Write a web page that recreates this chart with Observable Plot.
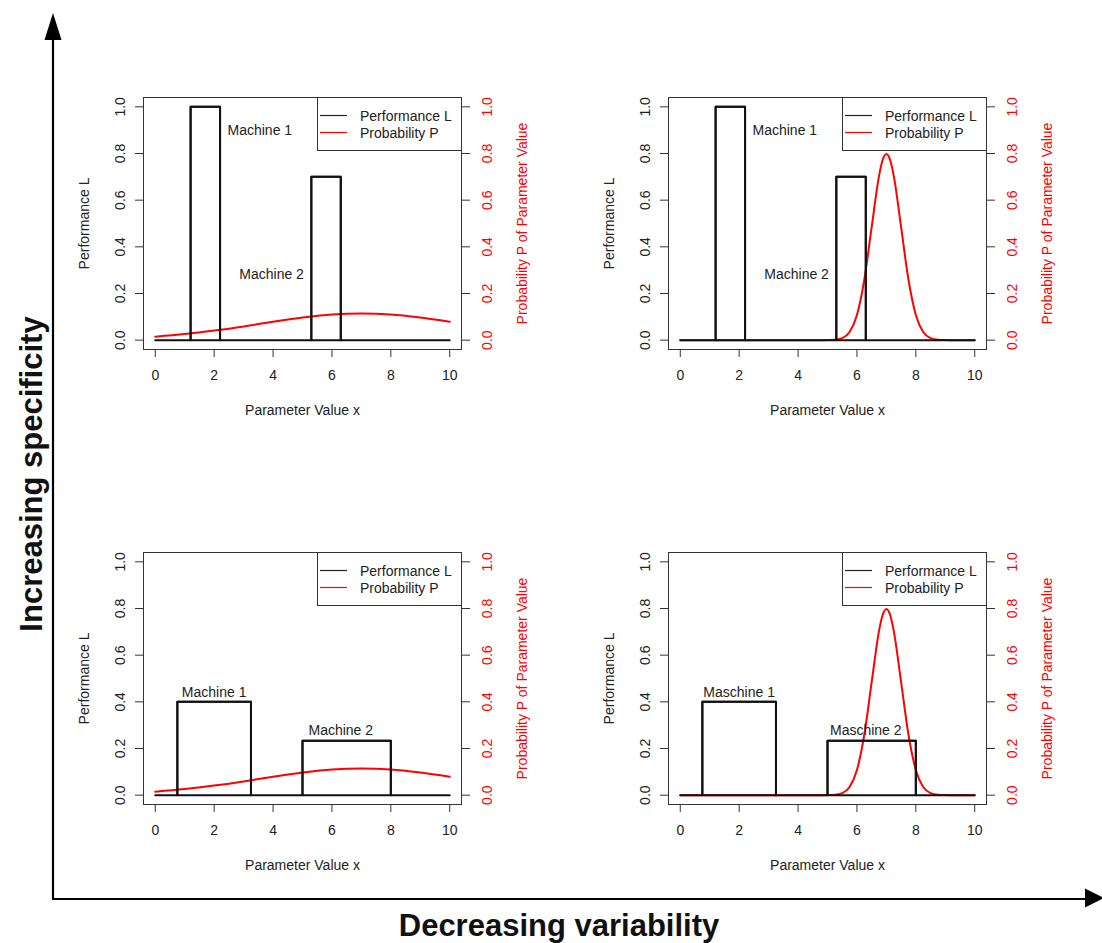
<!DOCTYPE html>
<html>
<head>
<meta charset="utf-8">
<script src="https://cdn.jsdelivr.net/npm/d3@7"></script>
<script src="https://cdn.jsdelivr.net/npm/@observablehq/plot@0.6"></script>
<style>
  html, body { margin: 0; padding: 0; background: #fff; }
  #root { position: relative; width: 1102px; height: 943px; overflow: hidden; background: #fff; font-family: 'Liberation Sans', Arial, Helvetica, sans-serif; }
  .abs { position: absolute; }
</style>
</head>
<body>
<div id="root"></div>
<script>
// ---------------- data ----------------
const xTicks = [0, 2, 4, 6, 8, 10];
const yTicks = [0, 0.2, 0.4, 0.6, 0.8, 1.0];

// Performance L step outlines (top row: narrow machines, bottom row: wide machines)
const perfXTop = [0, 1.2, 1.2, 2.2, 2.2, 5.3, 5.3, 6.3, 6.3, 10];
const perfLTop = [0, 0, 1.0, 1.0, 0, 0, 0.7, 0.7, 0, 0];
const perfXBottom = [0, 0.75, 0.75, 3.25, 3.25, 5.0, 5.0, 8.0, 8.0, 10];
const perfLBottom = [0, 0, 0.4, 0.4, 0, 0, 0.233, 0.233, 0, 0];

// Machine boxes (start, end, performance)
const machStartTop = [1.2, 5.3];
const machEndTop = [2.2, 6.3];
const machHeightTop = [1.0, 0.7];
const machStartBottom = [0.75, 5.0];
const machEndBottom = [3.25, 8.0];
const machHeightBottom = [0.4, 0.233];

// Probability P of parameter value
const probXWide = [0, 1, 2, 3, 4, 5, 6, 7, 8, 9, 10];
const probPWide = [0.015, 0.026, 0.041, 0.059, 0.079, 0.097, 0.110, 0.114, 0.110, 0.097, 0.079];
const probXNarrow = [0, 4.5, 4.75, 5.0, 5.25, 5.5, 5.75, 6.0, 6.25, 6.5, 6.75, 6.875, 7.0, 7.125, 7.25, 7.5, 7.75, 8.0, 8.25, 8.5, 8.75, 9.0, 9.25, 9.5, 10];
const probPNarrow = [0, 0, 0.00003, 0.0003, 0.0017, 0.0089, 0.035, 0.108, 0.259, 0.484, 0.704, 0.773, 0.798, 0.773, 0.704, 0.484, 0.259, 0.108, 0.035, 0.0089, 0.0017, 0.0003, 0.00003, 0, 0];

// Machine labels
const labelsTopX = [3.55, 3.95];
const labelsTopY = [0.9, 0.28];
const labelsTopText = ["Machine 1", "Machine 2"];
const labelsBottomX = [2.0, 6.3];
const labelsBottomY = [0.44, 0.278];
const labelsBottomTextEN = ["Machine 1", "Machine 2"];
const labelsBottomTextDE = ["Maschine 1", "Maschine 2"];

const legendNames = ["Performance L", "Probability P"];
const legendColors = ["#222", "red"];

const xTitle = "Parameter Value x";
const yTitleLeft = "Performance L";
const yTitleRight = "Probability P of Parameter Value";
const bigY = "Increasing specificity";
const bigX = "Decreasing variability";

// ---------------- drawing ----------------
const FONT = "'Liberation Sans', Arial, Helvetica, sans-serif";
const root = document.getElementById("root");
const PW = 480, PH = 340;
const M = {left: 83, right: 79, top: 12, bottom: 76};

function panel({left, top, px, pl, ms, me, mh, qx, qp, lx, ly, lt}) {
  const perf = px.map((x, i) => ({x, y: pl[i]}));
  // closed outlines of each machine box (including bottom edge on baseline)
  const boxes = ms.flatMap((s, i) => [
    {m: i, x: s, y: 0}, {m: i, x: s, y: mh[i]}, {m: i, x: me[i], y: mh[i]}, {m: i, x: me[i], y: 0}, {m: i, x: s, y: 0}
  ]);
  const prob = qx.map((x, i) => ({x, y: qp[i]}));
  const labels = lx.map((x, i) => ({x, y: ly[i], t: lt[i]}));
  const chart = Plot.plot({
    width: PW, height: PH,
    marginLeft: M.left, marginRight: M.right, marginTop: M.top, marginBottom: M.bottom,
    x: {domain: [-0.4, 10.4]},
    y: {domain: [-0.04, 1.04]},
    style: {fontFamily: FONT, fontSize: "14px", background: "transparent", overflow: "visible", color: "#222"},
    marks: [
      Plot.frame({stroke: "#333", strokeWidth: 1}),
      Plot.axisY({anchor: "left", ticks: yTicks, tickSize: 8, tickPadding: 0, tickFormat: () => "", label: null, stroke: "#333"}),
      Plot.axisY({anchor: "right", ticks: yTicks, tickSize: 8, tickPadding: 0, tickFormat: () => "", label: null, stroke: "#333"}),
      Plot.axisX({anchor: "bottom", ticks: xTicks, tickSize: 8, tickPadding: 0, tickFormat: () => "", label: null, stroke: "#333"}),
      Plot.text(yTicks, {y: d => d, text: d => d.toFixed(1), frameAnchor: "left", dx: -23, rotate: -90, textAnchor: "middle", lineAnchor: "middle", fill: "#222", fontSize: 14}),
      Plot.text(yTicks, {y: d => d, text: d => d.toFixed(1), frameAnchor: "right", dx: 26, rotate: -90, textAnchor: "middle", lineAnchor: "middle", fill: "red", fontSize: 14}),
      Plot.text(xTicks, {x: d => d, text: d => String(d), frameAnchor: "bottom", dy: 26, textAnchor: "middle", lineAnchor: "middle", fill: "#222", fontSize: 14}),
      Plot.text([yTitleLeft], {text: d => d, frameAnchor: "left", dx: -59, rotate: -90, textAnchor: "middle", lineAnchor: "middle", fill: "#222", fontSize: 14}),
      Plot.text([yTitleRight], {text: d => d, frameAnchor: "right", dx: 61, rotate: -90, textAnchor: "middle", lineAnchor: "middle", fill: "red", fontSize: 14}),
      Plot.text([xTitle], {text: d => d, frameAnchor: "bottom", dy: 61, textAnchor: "middle", lineAnchor: "middle", fill: "#222", fontSize: 14}),
      Plot.line(prob, {x: "x", y: "y", stroke: "red", strokeWidth: 2, curve: "monotone-x"}),
      Plot.line(boxes, {x: "x", y: "y", z: "m", stroke: "#111", strokeWidth: 2}),
      Plot.line(perf, {x: "x", y: "y", stroke: "#111", strokeWidth: 2}),
      Plot.text(labels, {x: "x", y: "y", text: "t", textAnchor: "middle", lineAnchor: "middle", fill: "#222", fontSize: 14})
    ]
  });
  const wrap = document.createElement("div");
  wrap.className = "abs";
  wrap.style.left = left + "px";
  wrap.style.top = top + "px";
  wrap.appendChild(chart);
  root.appendChild(wrap);

  // legend (top-right inside frame)
  const lg = d3.select(root).append("svg").attr("class", "abs")
    .style("left", left + "px").style("top", top + "px")
    .attr("width", PW).attr("height", PH).style("overflow", "visible");
  const fx1 = PW - M.right;
  const lw = 144, lh = 53;
  lg.append("rect").attr("x", fx1 - lw + 0.5).attr("y", M.top + 0.5).attr("width", lw).attr("height", lh)
    .attr("fill", "none").attr("stroke", "#333");
  legendNames.forEach((name, i) => {
    const yy = M.top + 18.5 + i * 17;
    lg.append("line").attr("x1", fx1 - lw + 3).attr("x2", fx1 - lw + 30).attr("y1", yy).attr("y2", yy)
      .attr("stroke", legendColors[i]).attr("stroke-width", 1.2);
    lg.append("text").attr("x", fx1 - lw + 43).attr("y", yy).attr("dominant-baseline", "central")
      .attr("font-family", FONT).attr("font-size", 14).attr("fill", "#222").text(name);
  });
}

panel({left: 60, top: 85, px: perfXTop, pl: perfLTop, ms: machStartTop, me: machEndTop, mh: machHeightTop, qx: probXWide, qp: probPWide, lx: labelsTopX, ly: labelsTopY, lt: labelsTopText});
panel({left: 585, top: 85, px: perfXTop, pl: perfLTop, ms: machStartTop, me: machEndTop, mh: machHeightTop, qx: probXNarrow, qp: probPNarrow, lx: labelsTopX, ly: labelsTopY, lt: labelsTopText});
panel({left: 60, top: 540, px: perfXBottom, pl: perfLBottom, ms: machStartBottom, me: machEndBottom, mh: machHeightBottom, qx: probXWide, qp: probPWide, lx: labelsBottomX, ly: labelsBottomY, lt: labelsBottomTextEN});
panel({left: 585, top: 540, px: perfXBottom, pl: perfLBottom, ms: machStartBottom, me: machEndBottom, mh: machHeightBottom, qx: probXNarrow, qp: probPNarrow, lx: labelsBottomX, ly: labelsBottomY, lt: labelsBottomTextDE});

// big arrows and axis captions
const deco = d3.select(root).append("svg").attr("class", "abs")
  .style("left", "0px").style("top", "0px").attr("width", 1102).attr("height", 943);
deco.append("line").attr("x1", 53).attr("x2", 53).attr("y1", 900).attr("y2", 38)
  .attr("stroke", "#000").attr("stroke-width", 2.2);
deco.append("path").attr("d", "M53,13 L44.5,40 L61.5,40 Z").attr("fill", "#000");
deco.append("line").attr("x1", 52).attr("x2", 1087).attr("y1", 899).attr("y2", 899)
  .attr("stroke", "#000").attr("stroke-width", 2.2);
deco.append("path").attr("d", "M1104,898 L1085,888.5 L1085,907.5 Z").attr("fill", "#000");
deco.append("text").attr("transform", "translate(31,474) rotate(-90)")
  .attr("text-anchor", "middle").attr("dominant-baseline", "central")
  .attr("font-family", FONT).attr("font-weight", "bold").attr("font-size", 31).attr("fill", "#111").text(bigY);
deco.append("text").attr("x", 559).attr("y", 936)
  .attr("text-anchor", "middle")
  .attr("font-family", FONT).attr("font-weight", "bold").attr("font-size", 31).attr("fill", "#111").text(bigX);
</script>
</body>
</html>
